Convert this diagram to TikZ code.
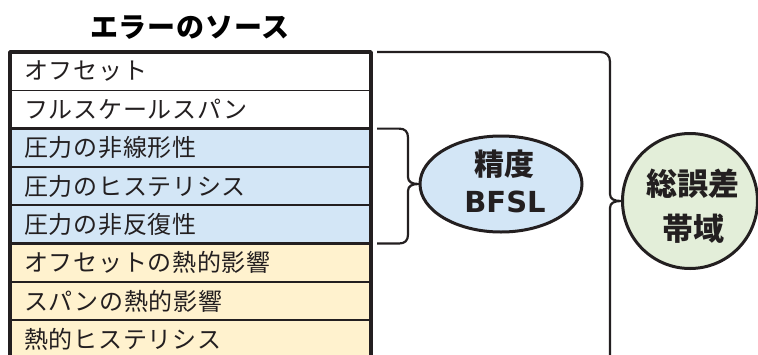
\documentclass[tikz,border=0pt]{standalone}
\usepackage{fontspec}
\usetikzlibrary{shapes.geometric}
\newfontfamily\jprow[LetterSpace=3]{Noto Sans CJK JP}
\newfontfamily\jptitle[LetterSpace=3]{Noto Sans CJK JP}
\newfontfamily\jpbub{Noto Sans CJK JP}
\newfontfamily\latbub{DejaVu Sans}
\definecolor{accblue}{HTML}{D3E6F6}
\definecolor{thermal}{HTML}{FFF2CE}
\definecolor{totgreen}{HTML}{E3EED9}
\definecolor{inkc}{HTML}{231F20}
\tikzset{
  rowtext/.style={anchor=west, inner sep=0pt, font=\jprow\fontsize{24}{24}\selectfont, text=inkc},
  outerline/.style={draw=inkc, line width=3.6pt},
  groupline/.style={draw=inkc, line width=3.4pt},
  thinline/.style={draw=inkc, line width=1.6pt},
  bracepath/.style={draw=inkc, line width=2.2pt},
  bubble/.style={draw=inkc, line width=3pt, inner sep=0pt, align=center, text=inkc}
}
\begin{document}
\begin{tikzpicture}[x=1pt,y=-1pt,line join=round]
\useasboundingbox (0,0) rectangle (758,354);
\clip (0,0) rectangle (758,354);
% row fills
\foreach \i/\c in {0/white,1/white,2/accblue,3/accblue,4/accblue,5/thermal,6/thermal,7/thermal}{
  \fill[\c] (10,{52+\i*38.3}) rectangle (371,{52+(\i+1)*38.3});
}
% thin separators
\foreach \i in {1,3,4,6,7}{
  \draw[thinline] (10,{52+\i*38.3}) -- (371,{52+\i*38.3});
}
% group separators
\foreach \i in {2,5}{
  \draw[groupline] (10,{52+\i*38.3}) -- (371,{52+\i*38.3});
}
% outer frame
\draw[outerline] (10,380) -- (10,52) -- (371,52) -- (371,380);
% title
\node[inner sep=0pt, font=\jptitle\bfseries\fontsize{28}{28}\selectfont, text=black] (title) at (190,28) {エラーのソース};
% row texts
\node[rowtext] (r1) at (24,{52+0.5*38.3}) {オフセット};
\node[rowtext] (r2) at (24,{52+1.5*38.3}) {フルスケールスパン};
\node[rowtext] (r3) at (24,{52+2.5*38.3}) {圧力の非線形性};
\node[rowtext] (r4) at (24,{52+3.5*38.3}) {圧力のヒステリシス};
\node[rowtext] (r5) at (24,{52+4.5*38.3}) {圧力の非反復性};
\node[rowtext] (r6) at (24,{52+5.5*38.3}) {オフセットの熱的影響};
\node[rowtext] (r7) at (24,{52+6.5*38.3}) {スパンの熱的影響};
\node[rowtext] (r8) at (24,{52+7.5*38.3}) {熱的ヒステリシス};
% bubbles
\node[bubble, ellipse, fill=accblue, minimum width=162pt, minimum height=96pt] (acc) at (501,184) {};
\node[inner sep=0pt, font=\jpbub\bfseries\fontsize{30}{30}\selectfont, text=inkc] (accl1) at (504,164) {精度};
\node[inner sep=0pt, font=\latbub\bfseries\fontsize{29}{29}\selectfont, text=inkc] (accl2) at (505,202) {BFSL};
\node[bubble, circle, fill=totgreen, minimum size=135pt] (tot) at (690,201) {};
\node[inner sep=0pt, font=\jpbub\bfseries\fontsize{31}{31}\selectfont, text=inkc] (totl1) at (693,184) {総誤差};
\node[inner sep=0pt, font=\jpbub\bfseries\fontsize{31}{31}\selectfont, text=inkc] (totl2) at (693,229) {帯域};
% small brace
\coordinate (sbT) at (377,128.6);
\coordinate (sbB) at (377,243.5);
\draw[bracepath] (sbT) -- (399,128.6) .. controls (405,128.6) and (408,131.6) .. (408,137.6)
  -- (408,177) .. controls (408,182) and (412,184) .. (acc.west)
  .. controls (412,184) and (408,186) .. (408,191)
  -- (408,234.5) .. controls (408,240.5) and (405,243.5) .. (399,243.5) -- (sbB);
% big brace
\coordinate (bbT) at (377,52);
\coordinate (bbB) at (610,370);
\draw[bracepath] (bbT) -- (600,52) .. controls (606.5,52) and (610,55.5) .. (610,62)
  -- (610,194) .. controls (610,199) and (614,201) .. (tot.west)
  .. controls (614,201) and (610,203) .. (610,208) -- (bbB);
\end{tikzpicture}
\end{document}
